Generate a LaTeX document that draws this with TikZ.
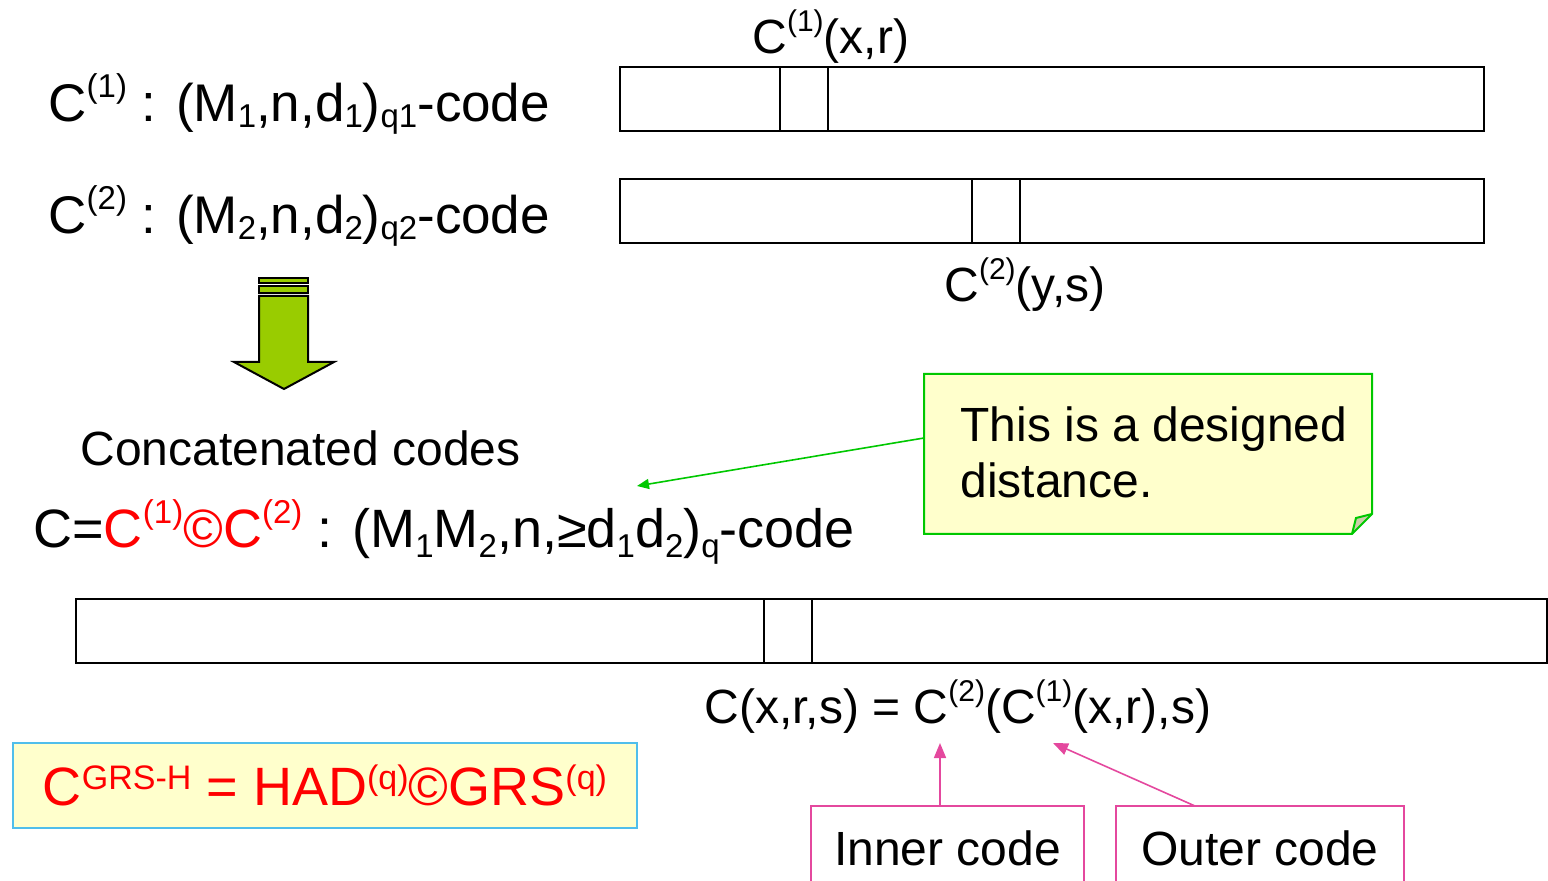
\documentclass[tikz,border=0pt]{standalone}
\usepackage{fontspec}
\setmainfont{Liberation Sans}
\usetikzlibrary{arrows.meta}

% raised / lowered small text for indices (24pt lines)
\newcommand\supx[1]{\raisebox{11pt}{\fontsize{15}{15}\selectfont #1}}
% indices for the larger lines
\newcommand\supb[1]{\raisebox{12pt}{\fontsize{16.5}{16.5}\selectfont #1}}
\newcommand\subb[1]{\raisebox{-3pt}{\fontsize{16.5}{16.5}\selectfont #1}}
\newcommand\subc[1]{\raisebox{-5pt}{\fontsize{16.5}{16.5}\selectfont #1}}
% indices in the boxed formula
\newcommand\supg[1]{\raisebox{8pt}{\fontsize{17}{17}\selectfont #1}}

\definecolor{notefill}{HTML}{FFFFCC}
\definecolor{noteline}{HTML}{00C800}
\definecolor{foldfill}{RGB}{205,205,170}
\definecolor{boxblue}{RGB}{80,190,235}
\definecolor{pinkline}{RGB}{228,72,158}
\definecolor{arrowgreen}{HTML}{99CC00}
\definecolor{redtxt}{HTML}{FF0000}

\tikzset{
  seg/.style={draw, line width=1pt, minimum height=32pt, inner sep=0pt, outer sep=0pt, anchor=north west},
  lbl/.style={anchor=base west, inner sep=0pt, font=\fontsize{24}{28}\selectfont},
  midlbl/.style={anchor=base west, inner sep=0pt, font=\fontsize{26.5}{30}\selectfont},
  biglbl/.style={anchor=base west, inner sep=0pt, font=\fontsize{27}{30}\selectfont},
  pinkarrow/.style={draw=pinkline, line width=0.8pt, -{Triangle[length=7.5pt,width=6pt]}, pinkline},
  greenarrow/.style={draw=noteline, line width=0.8pt, -{Triangle[length=6pt,width=5pt]}, noteline},
  tagbox/.style={anchor=north west, inner sep=0pt, outer sep=0pt, minimum height=42pt, font=\fontsize{24}{28}\selectfont},
}

\begin{document}
\begin{tikzpicture}[x=0.5pt, y=-0.5pt]
\useasboundingbox (0,0) rectangle (1548,881);

% ---- codeword bars ----
\node[seg, minimum width=80pt]  (b1a) at (620,67) {};
\node[seg, minimum width=24pt]  (b1b) at (b1a.north east) {};
\node[seg, minimum width=328pt] (b1c) at (b1b.north east) {};

\node[seg, minimum width=176pt] (b2a) at (620,179) {};
\node[seg, minimum width=24pt]  (b2b) at (b2a.north east) {};
\node[seg, minimum width=232pt] (b2c) at (b2b.north east) {};

\node[seg, minimum width=344pt]   (b3a) at (76,599) {};
\node[seg, minimum width=24pt]    (b3b) at (b3a.north east) {};
\node[seg, minimum width=367.5pt] (b3c) at (b3b.north east) {};

% ---- labels ----
\node[lbl] (c1x) at (752,54) {C\supx{(1)}(x,r)};
\node[midlbl] (code1) at (48,122) {C\supb{(1)} : (M\subb{1},n,d\subb{1})\subb{q1}-code};
\node[midlbl] (code2) at (48,234) {C\supb{(2)} : (M\subb{2},n,d\subb{2})\subb{q2}-code};
\node[lbl] (c2y) at (944,302) {C\supx{(2)}(y,s)};
\node[lbl] (concat) at (80,466) {Concatenated codes};
\node[biglbl] (concode) at (33,548) {C=\textcolor{redtxt}{C\supb{(1)}©C\supb{(2)}} : (M\subc{1}M\subc{2},n,≥d\subc{1}d\subc{2})\subc{q}-code};
\node[lbl] (cxrs) at (704,724) {C(x,r,s) = C\supx{(2)}(C\supx{(1)}(x,r),s)};

% ---- block arrow ----
\draw[line width=1pt, fill=arrowgreen] (259,278) rectangle (308,283);
\draw[line width=1pt, fill=arrowgreen] (259,286) rectangle (308,293);
\draw[line width=1pt, fill=arrowgreen, line join=miter]
  (259,296) -- (308,296) -- (308,362) -- (334,362) -- (284,389) -- (234,362) -- (259,362) -- cycle;

% ---- note ----
\node[minimum width=224pt, minimum height=80pt, inner sep=0pt, outer sep=0pt, anchor=north west] (note) at (924,374) {};
\fill[notefill] (note.north west) -- (note.north east) -- ([yshift=10pt]note.south east)
  -- ([xshift=-10pt]note.south east) -- (note.south west) -- cycle;
\fill[foldfill] ([yshift=10pt]note.south east) -- ([xshift=-8pt,yshift=8pt]note.south east)
  -- ([xshift=-10pt]note.south east) -- cycle;
\draw[noteline, line width=1pt, line join=miter] (note.north west) -- (note.north east) -- ([yshift=10pt]note.south east)
  -- ([xshift=-10pt]note.south east) -- (note.south west) -- cycle;
\draw[noteline, line width=1pt] ([yshift=10pt]note.south east) -- ([xshift=-8pt,yshift=8pt]note.south east)
  -- ([xshift=-10pt]note.south east);
\node[align=left, inner sep=0pt, font=\fontsize{24}{28}\selectfont, anchor=north west] (notetext) at (960,406)
  {This is a designed\\distance.};
\coordinate (dtip) at (637,486);
\draw[greenarrow] ([yshift=8pt]note.west) -- (dtip);

% ---- GRS-H formula box ----
\node[draw=boxblue, fill=notefill, line width=1pt, minimum width=312pt, minimum height=42.5pt,
      inner sep=0pt, anchor=north west, text=redtxt, font=\fontsize{27}{30}\selectfont] (grs) at (12,742)
  {C\supg{GRS-H} = HAD\supg{(q)}©GRS\supg{(q)}};

% ---- inner / outer code tags ----
\node[tagbox, minimum width=136.5pt] (inner) at (811,806) {Inner code};
\node[tagbox, minimum width=144pt]   (outer) at (1116,806) {Outer code};
\draw[pinkline, line width=1pt] ([yshift=-37.5pt]inner.north west) -- (inner.north west)
  -- (inner.north east) -- ([yshift=-37.5pt]inner.north east);
\draw[pinkline, line width=1pt] ([yshift=-37.5pt]outer.north west) -- (outer.north west)
  -- (outer.north east) -- ([yshift=-37.5pt]outer.north east);
\coordinate (innertip) at (940,743);
\coordinate (outertip) at (1053,743);
\draw[pinkarrow] ([xshift=-3.75pt]inner.north) -- (innertip);
\draw[pinkarrow] ([xshift=-32.5pt]outer.north) -- (outertip);
\end{tikzpicture}
\end{document}
